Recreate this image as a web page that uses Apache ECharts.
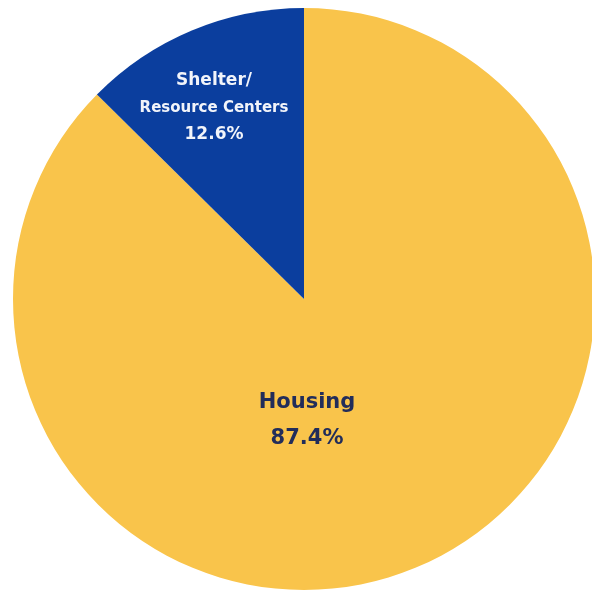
<!DOCTYPE html>
<html>
<head>
<meta charset="utf-8">
<script src="https://cdn.jsdelivr.net/npm/echarts@6/dist/echarts.min.js"></script>
<style>
  html, body { margin: 0; padding: 0; background: #fff; }
  #chart { width: 592px; height: 595px; }
</style>
</head>
<body>
<div id="chart"></div>
<script>
// data
const categories = ["Housing", "Shelter/Resource Centers"];
const shares = [87.4, 12.6];
const sliceColors = ["#F9C44B", "#0B3E9E"];

const chart = echarts.init(document.getElementById("chart"));

// where each label sits (label spots, not marks)
const labelSpots = [
  { x: 307, y: 421 },
  { x: 214, y: 108 }
];

chart.setOption({
  animation: false,
  series: [
    {
      type: "pie",
      center: [304, 299],
      radius: [0, 291],
      startAngle: 90,
      clockwise: true,
      silent: true,
      itemStyle: { borderWidth: 0 },
      label: {
        show: true,
        position: "inside",
        align: "center",
        verticalAlign: "middle"
      },
      labelLine: { show: false },
      labelLayout: (p) => ({
        x: labelSpots[p.dataIndex].x,
        y: labelSpots[p.dataIndex].y,
        align: "center",
        verticalAlign: "middle"
      }),
      data: categories.map((name, i) => ({
        name: name,
        value: shares[i],
        itemStyle: { color: sliceColors[i] },
        label: i === 0
          ? {
              formatter: "{a|Housing}\n{a|" + shares[0].toFixed(1) + "%}",
              rich: {
                a: { fontFamily: "DejaVu Sans", fontWeight: "bold", fontSize: 21, color: "#222D5A", lineHeight: 36, align: "center" }
              }
            }
          : {
              formatter: "{t|Shelter/}\n{s|Resource Centers}\n{t|" + shares[1].toFixed(1) + "%}",
              rich: {
                t: { fontFamily: "DejaVu Sans", fontWeight: "bold", fontSize: 17, color: "#F2F4FA", lineHeight: 27, align: "center" },
                s: { fontFamily: "DejaVu Sans", fontWeight: "bold", fontSize: 15, color: "#F2F4FA", lineHeight: 27, align: "center" }
              }
            }
      }))
    }
  ]
});
</script>
</body>
</html>
